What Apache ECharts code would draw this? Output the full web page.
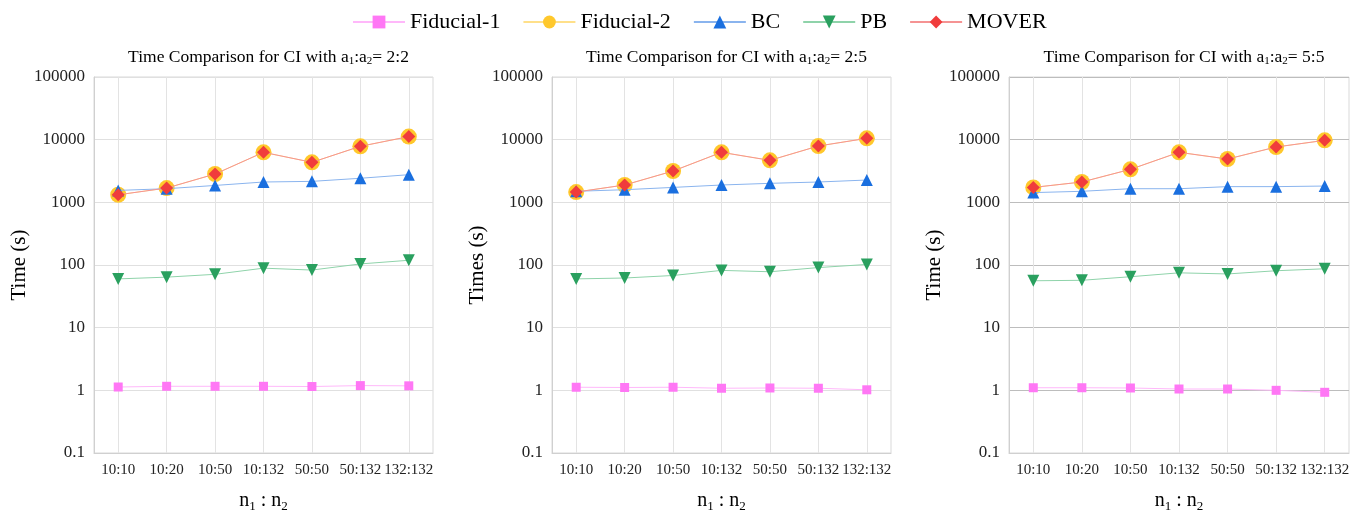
<!DOCTYPE html>
<html>
<head>
<meta charset="utf-8">
<script src="https://cdn.jsdelivr.net/npm/echarts@6/dist/echarts.min.js"></script>
<style>html,body{margin:0;padding:0;background:#fff}#c{width:1367px;height:516px}</style>
</head>
<body>
<div id="c"></div>
<script>
const categories = ['10:10','10:20','10:50','10:132','50:50','50:132','132:132'];
const seriesNames = ['Fiducial-1','Fiducial-2','BC','PB','MOVER'];
const panelRatios = ['2:2','2:5','5:5'];
const yAxisNames = ['Time (s)','Times (s)','Time (s)'];

// Panel 1: a1:a2 = 2:2
const p1Fid1  = [1.13, 1.16, 1.16, 1.16, 1.15, 1.19, 1.18];
const p1Fid2  = [1320, 1690, 2830, 6280, 4350, 7830, 11200];
const p1BC    = [1550, 1650, 1860, 2110, 2160, 2420, 2760];
const p1PB    = [60, 64, 71, 89, 83, 104, 119];
const p1MOVER = [1320, 1690, 2830, 6280, 4350, 7830, 11200];

// Panel 2: a1:a2 = 2:5
const p2Fid1  = [1.12, 1.11, 1.12, 1.08, 1.09, 1.08, 1.02];
const p2Fid2  = [1460, 1890, 3160, 6280, 4680, 7920, 10500];
const p2BC    = [1500, 1590, 1730, 1890, 2010, 2110, 2270];
const p2PB    = [60, 62, 68, 82, 78, 91, 102];
const p2MOVER = [1460, 1890, 3160, 6280, 4680, 7920, 10500];

// Panel 3: a1:a2 = 5:5
const p3Fid1  = [1.10, 1.10, 1.09, 1.05, 1.05, 1.00, 0.93];
const p3Fid2  = [1730, 2110, 3360, 6280, 4910, 7640, 9750];
const p3BC    = [1430, 1500, 1650, 1650, 1780, 1780, 1820];
const p3PB    = [56, 57, 65, 75, 72, 81, 87];
const p3MOVER = [1730, 2110, 3360, 6280, 4910, 7640, 9750];

const panels = [
  [p1Fid1, p1Fid2, p1BC, p1PB, p1MOVER],
  [p2Fid1, p2Fid2, p2BC, p2PB, p2MOVER],
  [p3Fid1, p3Fid2, p3BC, p3PB, p3MOVER]
];

const FONT = 'Liberation Serif';
const styles = [
  {symbol:'rect', size:9, color:'#ff77f5', line:'#ffb8fa', rot:0},
  {symbol:'circle', size:16, color:'#ffc82c', line:'#ffe08a', rot:0},
  {symbol:'triangle', size:12, color:'#1a6fdf', line:'#8ab4ee', rot:0},
  {symbol:'triangle', size:12, color:'#2aa05f', line:'#8fd3aa', rot:180},
  {symbol:'diamond', size:13, color:'#f03c3c', line:'#f59393', rot:0}
];

const gridDefs = [
  {left:94, width:339},
  {left:552, width:339},
  {left:1009, width:340}
];

const grids = [], xAxes = [], yAxes = [], series = [], titles = [];
gridDefs.forEach((g, i) => {
  grids.push({left:g.left, width:g.width, top:77, height:376, show:true, borderColor:'#d9d9d9', borderWidth:1,
    containLabel:false, outerBoundsMode:'none'});
  titles.push({
    text:'{a|Time Comparison for CI with a}{s|1}{a|:a}{s|2}{a|= ' + panelRatios[i] + '}',
    left: g.left + g.width/2, top: 42, textAlign:'center',
    textStyle:{fontWeight:'normal', rich:{
      a:{fontFamily:FONT, fontSize:17.5, fontWeight:'normal', color:'#000'},
      s:{fontFamily:FONT, fontSize:11, fontWeight:'normal', color:'#000', padding:[9,0,0,0]}
    }}
  });
  xAxes.push({
    type:'category', gridIndex:i, data:categories, boundaryGap:true,
    axisLine:{show:true, lineStyle:{color:'#d0d0d0'}},
    axisTick:{show:false},
    axisLabel:{fontFamily:FONT, fontSize:15, color:'#222', margin:10, interval:0},
    splitLine:{show:true, alignWithLabel:true, lineStyle:{color:'#e3e3e3'}},
    name:'{a|n}{s|1}{a| : n}{s|2}', nameLocation:'middle', nameGap:35,
    nameTextStyle:{rich:{
      a:{fontFamily:FONT, fontSize:20, color:'#000'},
      s:{fontFamily:FONT, fontSize:13, color:'#000', padding:[12,0,0,0]}
    }}
  });
  yAxes.push({
    type:'log', logBase:10, gridIndex:i, min:0.1, max:100000,
    axisLine:{show:true, lineStyle:{color:'#d0d0d0'}},
    axisTick:{show:false},
    axisLabel:{fontFamily:FONT, fontSize:17, color:'#222', margin:9,
      formatter: v => String(Math.round(v * 10) / 10)},
    splitLine:{show:true, lineStyle:{color: i === 2 ? '#bdbdbd' : '#e0e0e0'}},
    name:yAxisNames[i], nameLocation:'middle', nameGap:60, nameRotate:90,
    nameTextStyle:{fontFamily:FONT, fontSize:21, color:'#000'}
  });
  panels[i].forEach((data, k) => {
    const st = styles[k];
    series.push({
      name:seriesNames[k], type:'line', xAxisIndex:i, yAxisIndex:i, data:data,
      symbol:st.symbol, symbolSize:st.size, symbolRotate:st.rot,
      itemStyle:{color:st.color},
      lineStyle:{color:st.line, width:1},
      showAllSymbol:true, z: 2 + k, animation:false
    });
  });
});

const chart = echarts.init(document.getElementById('c'));
chart.setOption({
  animation:false,
  title:titles,
  legend:{
    data:seriesNames, top:6, left:347, itemWidth:52, itemHeight:16, itemGap:22,
    textStyle:{fontFamily:FONT, fontSize:22, color:'#000'}
  },
  grid:grids, xAxis:xAxes, yAxis:yAxes, series:series
});
</script>
</body>
</html>
